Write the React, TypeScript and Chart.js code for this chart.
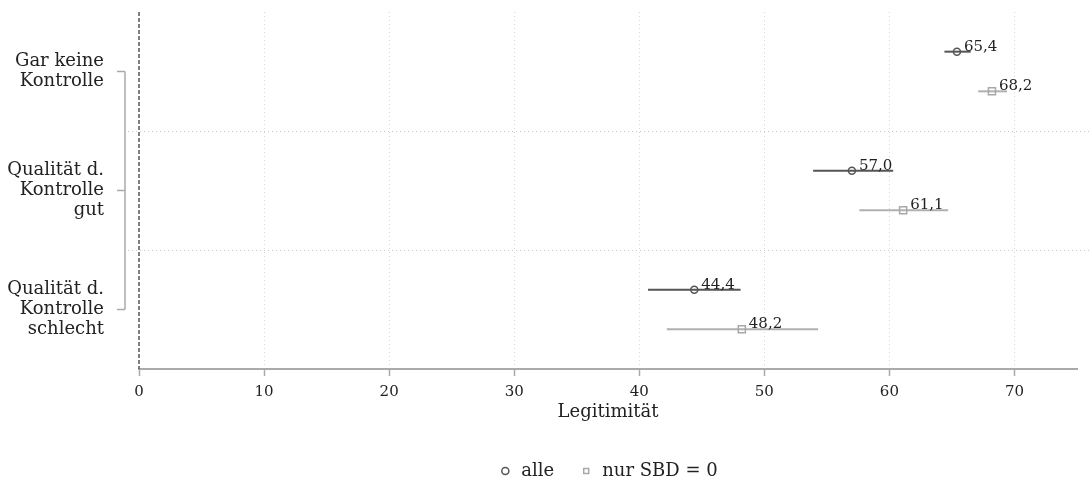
import React, { useEffect, useRef } from "react";
import { Chart, registerables } from "chart.js";

Chart.register(...registerables);

const FONT = "'DejaVu Serif', 'Liberation Serif', serif";

// Categories (multi-line labels, top to bottom)
const categoryLines: string[][] = [
  ["Gar keine", "Kontrolle"],
  ["Qualität d.", "Kontrolle", "gut"],
  ["Qualität d.", "Kontrolle", "schlecht"],
];

// Series "alle"
const alleValues = [65.4, 57.0, 44.4];
const alleLower = [64.4, 53.9, 40.7];
const alleUpper = [66.5, 60.3, 48.1];

// Series "nur SBD = 0"
const sbdValues = [68.2, 61.1, 48.2];
const sbdLower = [67.1, 57.6, 42.2];
const sbdUpper = [69.4, 64.7, 54.3];

const seriesLabels = ["alle", "nur SBD = 0"];
const xTicks = [0, 10, 20, 30, 40, 50, 60, 70];
const xTitle = "Legitimität";

const ROWS_PER_GROUP = 3;
const groupCenter = (i: number) => i * ROWS_PER_GROUP + 1.5;

const seriesDefs = [
  { values: alleValues, lower: alleLower, upper: alleUpper, offset: 1, mark: "#555555", bar: "#555555" },
  { values: sbdValues, lower: sbdLower, upper: sbdUpper, offset: 2, mark: "#a8a8a8", bar: "#b0b0b0" },
];

const fmt = (v: number) => v.toFixed(1).replace(".", ",");

const decorPlugin = {
  id: "decor",
  beforeDatasetsDraw(chart: any) {
    const { ctx, chartArea, scales } = chart;
    const x = scales.x;
    const y = scales.y;
    ctx.save();
    // group separators (dotted)
    ctx.setLineDash([1, 3]);
    ctx.strokeStyle = "#c8c8c8";
    ctx.lineWidth = 1;
    for (let g = 1; g < categoryLines.length; g++) {
      const py = Math.round(y.getPixelForValue(g * ROWS_PER_GROUP)) + 0.5;
      ctx.beginPath();
      ctx.moveTo(chartArea.left - 11, py);
      ctx.lineTo(chart.width, py);
      ctx.stroke();
    }
    // zero reference line (dashed)
    ctx.setLineDash([4, 2]);
    ctx.strokeStyle = "#555555";
    ctx.lineWidth = 1.5;
    const px0 = x.getPixelForValue(0);
    ctx.beginPath();
    ctx.moveTo(px0, chartArea.top);
    ctx.lineTo(px0, chartArea.bottom);
    ctx.stroke();
    // error bars
    ctx.setLineDash([]);
    ctx.lineWidth = 2;
    seriesDefs.forEach((s) => {
      ctx.strokeStyle = s.bar;
      s.lower.forEach((lo, i) => {
        const py = y.getPixelForValue(i * ROWS_PER_GROUP + s.offset);
        ctx.beginPath();
        ctx.moveTo(x.getPixelForValue(lo), py);
        ctx.lineTo(x.getPixelForValue(s.upper[i]), py);
        ctx.stroke();
      });
    });
    // bracket on the left
    ctx.strokeStyle = "#aaaaaa";
    ctx.lineWidth = 1.5;
    const bx = chartArea.left - 14;
    const yTop = y.getPixelForValue(groupCenter(0));
    const yBot = y.getPixelForValue(groupCenter(categoryLines.length - 1));
    ctx.beginPath();
    ctx.moveTo(bx, yTop);
    ctx.lineTo(bx, yBot);
    ctx.stroke();
    categoryLines.forEach((_, i) => {
      const py = y.getPixelForValue(groupCenter(i));
      ctx.beginPath();
      ctx.moveTo(bx - 8, py);
      ctx.lineTo(bx, py);
      ctx.stroke();
    });
    ctx.restore();
  },
  afterDatasetsDraw(chart: any) {
    const { ctx, scales } = chart;
    const x = scales.x;
    const y = scales.y;
    ctx.save();
    ctx.font = `15px ${FONT}`;
    ctx.fillStyle = "#222222";
    ctx.textAlign = "left";
    ctx.textBaseline = "alphabetic";
    seriesDefs.forEach((s) => {
      s.values.forEach((v, i) => {
        const px = x.getPixelForValue(v);
        const py = y.getPixelForValue(i * ROWS_PER_GROUP + s.offset);
        ctx.fillText(fmt(v), px + 7, py - 1);
      });
    });
    ctx.restore();
  },
};

export default function App() {
  const canvasRef = useRef<HTMLCanvasElement | null>(null);

  useEffect(() => {
    if (!canvasRef.current) return;
    Chart.defaults.font.family = FONT;
    const chart = new Chart(canvasRef.current, {
      type: "scatter",
      data: {
        datasets: [
          {
            label: seriesLabels[0],
            data: alleValues.map((v, i) => ({ x: v, y: i * ROWS_PER_GROUP + 1 })),
            pointStyle: "circle",
            pointRadius: 3.5,
            borderWidth: 1.5,
            borderColor: seriesDefs[0].mark,
            backgroundColor: "rgba(0,0,0,0)",
          },
          {
            label: seriesLabels[1],
            data: sbdValues.map((v, i) => ({ x: v, y: i * ROWS_PER_GROUP + 2 })),
            pointStyle: "rect",
            pointRadius: 5,
            borderWidth: 1.5,
            borderColor: seriesDefs[1].mark,
            backgroundColor: "rgba(0,0,0,0)",
          },
        ],
      },
      options: {
        responsive: false,
        maintainAspectRatio: false,
        devicePixelRatio: 1,
        animation: false,
        layout: { padding: { top: 12, right: 12, left: 0, bottom: 0 } },
        plugins: {
          tooltip: { enabled: false },
          legend: {
            position: "bottom",
            fullSize: false,
            labels: {
              usePointStyle: true,
              boxWidth: 14,
              boxHeight: 5,
              padding: 25,
              color: "#222222",
              font: { family: FONT, size: 18 },
            },
          },
        },
        scales: {
          x: {
            type: "linear",
            min: 0,
            max: 75,
            afterBuildTicks: (scale: any) => {
              scale.ticks = xTicks.map((v) => ({ value: v }));
            },
            afterFit: (scale: any) => {
              scale.height = 68;
              scale.paddingLeft = 0;
              scale.paddingRight = 0;
            },
            ticks: {
              autoSkip: false,
              maxRotation: 0,
              padding: 7,
              color: "#222222",
              font: { family: FONT, size: 15 },
            },
            grid: {
              color: (ctx: any) => (ctx.tick && ctx.tick.value === 0 ? "rgba(0,0,0,0)" : "#d6d6d6"),
              lineWidth: 1,
              tickColor: "#aaaaaa",
              tickLength: 7,
              tickWidth: 1.5,
              tickBorderDash: [],
            },
            border: { color: "#aaaaaa", width: 2, dash: [1, 3] },
            title: {
              display: true,
              text: xTitle,
              color: "#222222",
              font: { family: FONT, size: 18 },
              padding: { top: 0, bottom: 14 },
            },
          },
          y: {
            type: "linear",
            reverse: true,
            min: 0,
            max: categoryLines.length * ROWS_PER_GROUP,
            afterBuildTicks: (scale: any) => {
              scale.ticks = categoryLines.map((_, i) => ({ value: groupCenter(i) }));
            },
            afterFit: (scale: any) => {
              scale.width = 139;
              scale.paddingTop = 0;
              scale.paddingBottom = 0;
            },
            ticks: {
              autoSkip: false,
              padding: 27,
              color: "#222222",
              font: { family: FONT, size: 18, lineHeight: 1.12 },
              callback: (_v: any, i: number) => categoryLines[i],
            },
            grid: { display: false },
            border: { display: false },
          },
        },
      },
      plugins: [decorPlugin],
    });
    return () => chart.destroy();
  }, []);

  return (
    <div style={{ position: "fixed", left: 0, top: 0, width: 1089, height: 490, background: "#ffffff" }}>
      <canvas ref={canvasRef} width={1089} height={490} style={{ display: "block" }} />
    </div>
  );
}
